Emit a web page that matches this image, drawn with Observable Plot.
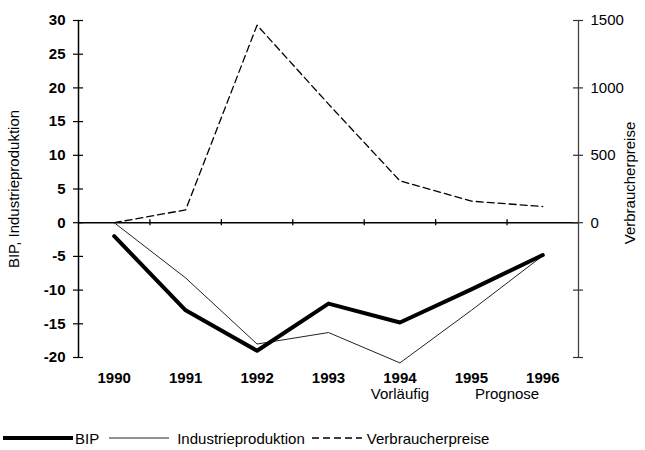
<!DOCTYPE html>
<html><head><meta charset="utf-8">
<script src="https://cdn.jsdelivr.net/npm/d3@7"></script>
<script src="https://cdn.jsdelivr.net/npm/@observablehq/plot@0.6"></script>
<style>
html,body{margin:0;padding:0;background:#fff;}
body{font-family:"Liberation Sans",Arial,sans-serif;width:645px;height:450px;overflow:hidden;}
#legend{display:flex;align-items:center;height:36px;font-size:15px;color:#000;padding-left:3px;}
#legend svg{display:block;}
</style></head><body>
<div id="chart"></div>
<div id="legend"></div>
<script>
const years = [1990, 1991, 1992, 1993, 1994, 1995, 1996];
const bip = [-2, -13, -19, -12, -14.8, -9.9, -4.8];
const industrie = [0, -8.2, -18, -16.3, -20.8, -13, -4.9];
const verbraucher = [0, 95, 1465, 880, 310, 160, 120];
const leftTicks = [30, 25, 20, 15, 10, 5, 0, -5, -10, -15, -20];
const rightTicks = [1500, 1000, 500, 0, -500, -1000];
const rightLabels = [1500, 1000, 500, 0];
const noteYears = [1994, 1995.5];
const noteLabels = ["Vorläufig", "Prognose"];
const seriesNames = ["BIP", "Industrieproduktion", "Verbraucherpreise"];
const yTitleLeft = "BIP, Industrieproduktion";
const yTitleRight = "Verbraucherpreise";

const ratio = 1500 / 30;
const W = 645, H = 420, mL = 78, mR = 67, mT = 20, mB = 63;
const plotW = W - mL - mR;
const xDomain = [years[0] - 0.5, years[years.length - 1] + 0.5];
const boundaries = years.slice(0, -1).map(y => y + 0.5);

const bipData = years.map((y, i) => ({year: y, value: bip[i]}));
const indData = years.map((y, i) => ({year: y, value: industrie[i]}));
const vpData = years.map((y, i) => ({year: y, value: verbraucher[i] / ratio}));
const notes = noteYears.map((y, i) => ({year: y, label: noteLabels[i]}));

const chart = Plot.plot({
  width: W, height: H,
  marginLeft: mL, marginRight: mR, marginTop: mT, marginBottom: mB,
  style: {fontFamily: "Liberation Sans, Arial, sans-serif", fontSize: "15px", color: "#000", background: "#fff"},
  x: {type: "linear", domain: xDomain},
  y: {domain: [-20, 30]},
  marks: [
    Plot.ruleY([0], {stroke: "#000", strokeWidth: 1.5}),
    Plot.ruleX([xDomain[0]], {stroke: "#000", strokeWidth: 1.5}),
    Plot.ruleX([xDomain[1]], {stroke: "#444", strokeWidth: 1.3}),
    Plot.ruleX(boundaries, {x: d => d, y1: -0.45, y2: 0.45, stroke: "#000", strokeWidth: 1.3}),
    Plot.tickY(leftTicks, {y: d => d, insetLeft: -5, insetRight: plotW - 5, stroke: "#000", strokeWidth: 1.2}),
    Plot.tickY(rightTicks, {y: d => d / ratio, insetLeft: plotW - 5, insetRight: -5, stroke: "#333", strokeWidth: 1.2}),
    Plot.axisY(leftTicks, {anchor: "left", tickSize: 0, tickPadding: 13, fontWeight: "bold", tickFormat: d => String(d), label: null}),
    Plot.axisY(rightLabels.map(v => v / ratio), {anchor: "right", tickSize: 0, tickPadding: 12, tickFormat: d => String(Math.round(d * ratio)), label: null}),
    Plot.axisX(years, {anchor: "bottom", tickSize: 0, tickPadding: 15, fontWeight: "bold", tickFormat: d => String(d), label: null}),
    Plot.text(notes, {x: "year", text: "label", frameAnchor: "bottom", lineAnchor: "top", dy: 31}),
    Plot.text([yTitleLeft], {text: d => d, frameAnchor: "left", textAnchor: "middle", rotate: -90, dx: -64}),
    Plot.text([yTitleRight], {text: d => d, frameAnchor: "right", textAnchor: "middle", rotate: -90, dx: 52, dy: -6}),
    Plot.line(vpData, {x: "year", y: "value", stroke: "#000", strokeWidth: 1.3, strokeDasharray: "7,4"}),
    Plot.line(indData, {x: "year", y: "value", stroke: "#222", strokeWidth: 1}),
    Plot.line(bipData, {x: "year", y: "value", stroke: "#000", strokeWidth: 4})
  ]
});
document.getElementById("chart").appendChild(chart);

// legend
const legendStyles = [
  {w: 70, sw: 4, dash: null, stroke: "#000", gapBefore: 0, textGap: 2},
  {w: 60, sw: 1, dash: null, stroke: "#222", gapBefore: 10, textGap: 8},
  {w: 50, sw: 1.3, dash: "7,4", stroke: "#000", gapBefore: 7, textGap: 5}
];
const legend = d3.select("#legend");
seriesNames.forEach((name, i) => {
  const s = legendStyles[i];
  const svg = legend.append("svg").attr("width", s.w).attr("height", 10).style("margin-left", s.gapBefore + "px");
  svg.append("line").attr("x1", 0).attr("x2", s.w).attr("y1", 5).attr("y2", 5)
    .attr("stroke", s.stroke).attr("stroke-width", s.sw).attr("stroke-dasharray", s.dash);
  legend.append("span").text(name).style("margin-left", s.textGap + "px");
});
</script>
</body></html>
